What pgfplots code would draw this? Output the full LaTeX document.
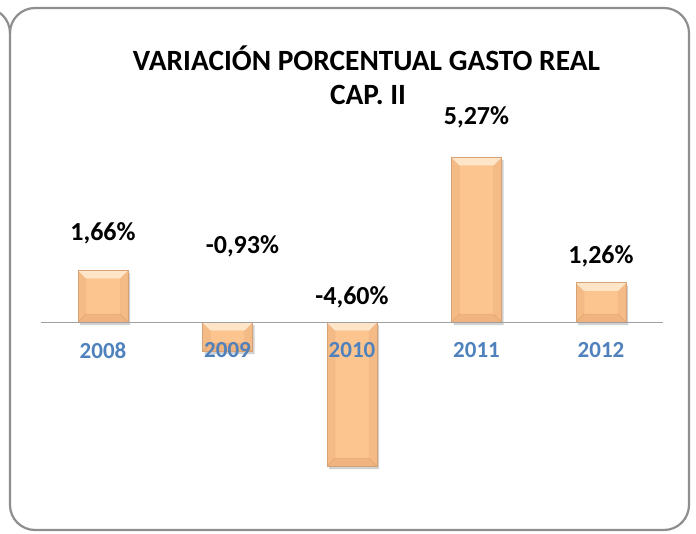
\documentclass[border=0pt]{standalone}
\usepackage{fontspec}
\setmainfont{Carlito}
\usepackage{pgfplots}
\pgfplotsset{compat=1.18}
\definecolor{barfill}{HTML}{FCC590}
\definecolor{baredge}{HTML}{D7A275}
\definecolor{bevtop}{HTML}{FFF1DC}
\definecolor{bevside}{HTML}{E8A770}
\definecolor{bevbot}{HTML}{D89660}
\definecolor{framegray}{HTML}{8E8E8E}
\definecolor{tickblue}{HTML}{4F81BD}
\definecolor{zeroline}{HTML}{A0A0A0}
\newif\ifinbevel
\tikzset{bevel/.style={path picture={%
  \ifinbevel\else\inbeveltrue
    \fill[bevside, opacity=0.3, path picture={}] (path picture bounding box.north west) -- ([shift={(8pt,-8pt)}]path picture bounding box.north west) -- ([shift={(8pt,8pt)}]path picture bounding box.south west) -- (path picture bounding box.south west) -- cycle;
    \fill[bevside, opacity=0.3, path picture={}] (path picture bounding box.north east) -- ([shift={(-8pt,-8pt)}]path picture bounding box.north east) -- ([shift={(-8pt,8pt)}]path picture bounding box.south east) -- (path picture bounding box.south east) -- cycle;
    \fill[bevtop, opacity=0.75, path picture={}] (path picture bounding box.north west) -- (path picture bounding box.north east) -- ([shift={(-8pt,-8pt)}]path picture bounding box.north east) -- ([shift={(8pt,-8pt)}]path picture bounding box.north west) -- cycle;
    \fill[bevbot, opacity=0.35, path picture={}] (path picture bounding box.south west) -- (path picture bounding box.south east) -- ([shift={(-8pt,8pt)}]path picture bounding box.south east) -- ([shift={(8pt,8pt)}]path picture bounding box.south west) -- cycle;
  \fi}}}
\pgfplotsset{barsty/.style={ybar, bar width=50pt, bar shift=0pt, fill=barfill, draw=baredge, line width=0.5pt, bevel, forget plot}}
\begin{document}
\begin{tikzpicture}[x=1pt,y=1pt]
\useasboundingbox (0,0) rectangle (696,533);
\draw[color=framegray, line width=2.2pt, rounded corners=25pt] (10,3) rectangle (689,525);
\draw[color=framegray, line width=2.2pt] (-15,525) arc[start angle=90, end angle=0, radius=25];
\node[font=\fontsize{29.4}{35}\selectfont\bfseries] at (366.5,475) {VARIACIÓN PORCENTUAL GASTO REAL};
\node[font=\fontsize{29.4}{35}\selectfont\bfseries] at (368,438) {CAP. II};
\begin{axis}[
  at={(40.75pt,38.8pt)}, anchor=south west,
  scale only axis, width=622.5pt, height=406.9pt,
  xmin=-0.5, xmax=4.5, ymin=-5.5, ymax=7.5,
  clip=false,
  axis x line*=middle, axis y line=none,
  x axis line style={color=zeroline, line width=1pt},
  xtick={0,1,2,3,4},
  xticklabels={2008,2009,2010,2011,2012},
  major tick length=0pt,
  xticklabel style={font=\fontsize{23}{27}\selectfont\bfseries, text=tickblue, inner sep=0pt, yshift=-20pt},
  axis on top,
]
\addplot[ybar, bar width=50pt, bar shift=0pt, fill=black, fill opacity=0.18, draw=none, xshift=2pt, yshift=-3pt, forget plot]
  coordinates {(0,1.66) (1,-0.93) (2,-4.60) (3,5.27) (4,1.26)};
\addplot[barsty] coordinates {(0,1.66)};
\addplot[barsty] coordinates {(1,-0.93)};
\addplot[barsty] coordinates {(2,-4.60)};
\addplot[barsty] coordinates {(3,5.27)};
\addplot[barsty] coordinates {(4,1.26)};
\addplot[only marks, mark=none, draw=none,
  nodes near coords, point meta=explicit symbolic,
  every node near coord/.append style={anchor=center, font=\fontsize{26}{30}\selectfont\bfseries, text=black, inner sep=0pt}]
  coordinates {(0,2.84) [1,66\%] (1.12,2.43) [-0,93\%] (2,0.80) [-4,60\%] (3,6.55) [5,27\%] (4,2.11) [1,26\%]};
\end{axis}
\end{tikzpicture}
\end{document}
